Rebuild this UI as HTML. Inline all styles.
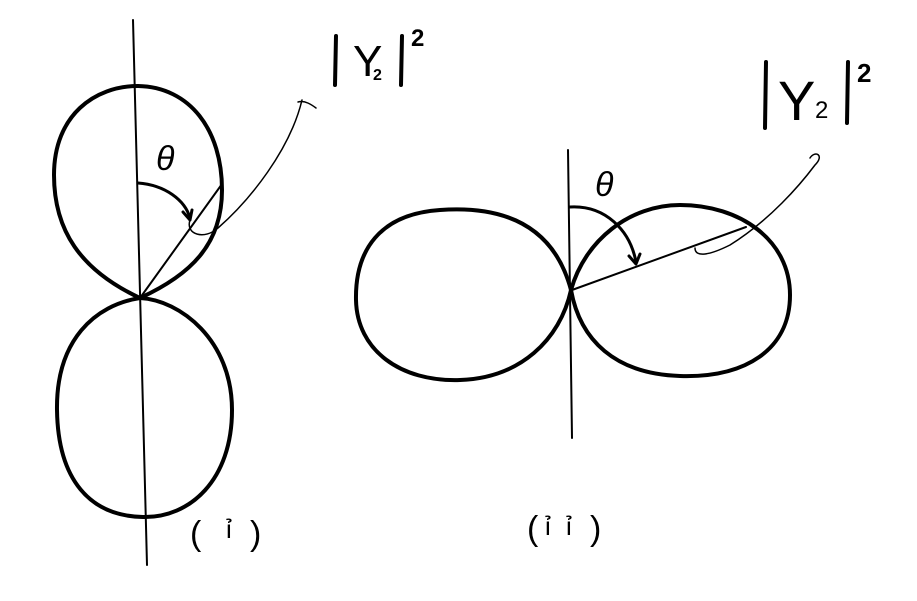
<!DOCTYPE html>
<html><head><meta charset="utf-8"><style>
html,body{margin:0;padding:0;background:#fff;}
svg{display:block;}
text{font-family:"Liberation Sans",sans-serif;fill:#000;}
</style></head><body>
<svg width="917" height="601" viewBox="0 0 917 601" xmlns="http://www.w3.org/2000/svg">
<g fill="none" stroke="#000" stroke-linecap="round" stroke-linejoin="round">
<!-- Figure i -->
<line x1="133" y1="20" x2="147" y2="565" stroke-width="2"/>
<path d="M140 298 C 80 270, 54 230, 54 175 C 54 115, 95 86, 138 86 C 190 87, 222 130, 222 190 C 222 245, 190 275, 140 298 Z" stroke-width="4"/>
<path d="M140 298 C 180 300, 232 340, 232 410 C 232 480, 190 518, 143 517 C 90 516, 58 480, 57 410 C 56 340, 95 305, 140 298 Z" stroke-width="4"/>
<line x1="140" y1="298" x2="222" y2="184" stroke-width="2"/>
<path d="M138 183 C 165 185, 185 200, 190 218" stroke-width="3"/>
<path d="M183 212 L190 220 L192 210" stroke-width="3"/>
<path d="M190 220 C 185 235, 205 240, 218 228 C 250 200, 290 150, 302 100" stroke-width="1.5"/>
<path d="M298 102 C 305 100, 312 105, 316 108" stroke-width="1.5"/>
<!-- Figure ii -->
<line x1="568" y1="150" x2="572" y2="438" stroke-width="2"/>
<path d="M571 290 C 555 230, 510 205, 440 210 C 380 214, 355 250, 356 300 C 357 350, 400 382, 460 380 C 520 378, 560 340, 571 290 Z" stroke-width="4"/>
<path d="M571 290 C 585 240, 630 205, 680 205 C 740 205, 790 240, 790 295 C 790 350, 745 378, 680 376 C 615 374, 580 340, 571 290 Z" stroke-width="4"/>
<line x1="572" y1="290" x2="746" y2="227" stroke-width="2"/>
<path d="M570 207 C 605 205, 630 230, 636 262" stroke-width="3"/>
<path d="M629 256 L636 264 L640 254" stroke-width="3"/>
<path d="M695 248 C 695 258, 710 255, 730 245 C 770 220, 800 185, 815 165 C 825 155, 815 150, 810 158" stroke-width="1.5"/>
<!-- bars -->
<line x1="336" y1="36" x2="335" y2="85" stroke-width="4"/>
<line x1="402" y1="36" x2="401" y2="85" stroke-width="4"/>
<line x1="766" y1="62" x2="765" y2="128" stroke-width="4"/>
<line x1="848" y1="62" x2="847" y2="123" stroke-width="4"/>
</g>
<!-- theta labels -->
<text x="156" y="170" font-size="34" font-family="Liberation Serif" font-style="italic">θ</text>
<text x="595" y="196" font-size="34" font-family="Liberation Serif" font-style="italic">θ</text>
<!-- |Y2|^2 labels -->
<text x="353" y="76" font-size="44">Y</text><text x="373" y="80" font-size="16" font-weight="bold">2</text><text x="411" y="46" font-size="24" font-weight="bold">2</text>
<text x="778" y="120" font-size="56">Y</text><text x="815" y="118" font-size="24">2</text><text x="857" y="82" font-size="26" font-weight="bold">2</text>
<!-- captions -->
<text x="190" y="545" font-size="34">(</text><text x="226" y="538" font-size="26">ỉ</text><text x="250" y="545" font-size="34">)</text>
<text x="527" y="540" font-size="34">(</text><text x="545" y="535" font-size="26">ỉ</text><text x="566" y="535" font-size="26">ỉ</text><text x="590" y="540" font-size="34">)</text>
</svg>
</body></html>
